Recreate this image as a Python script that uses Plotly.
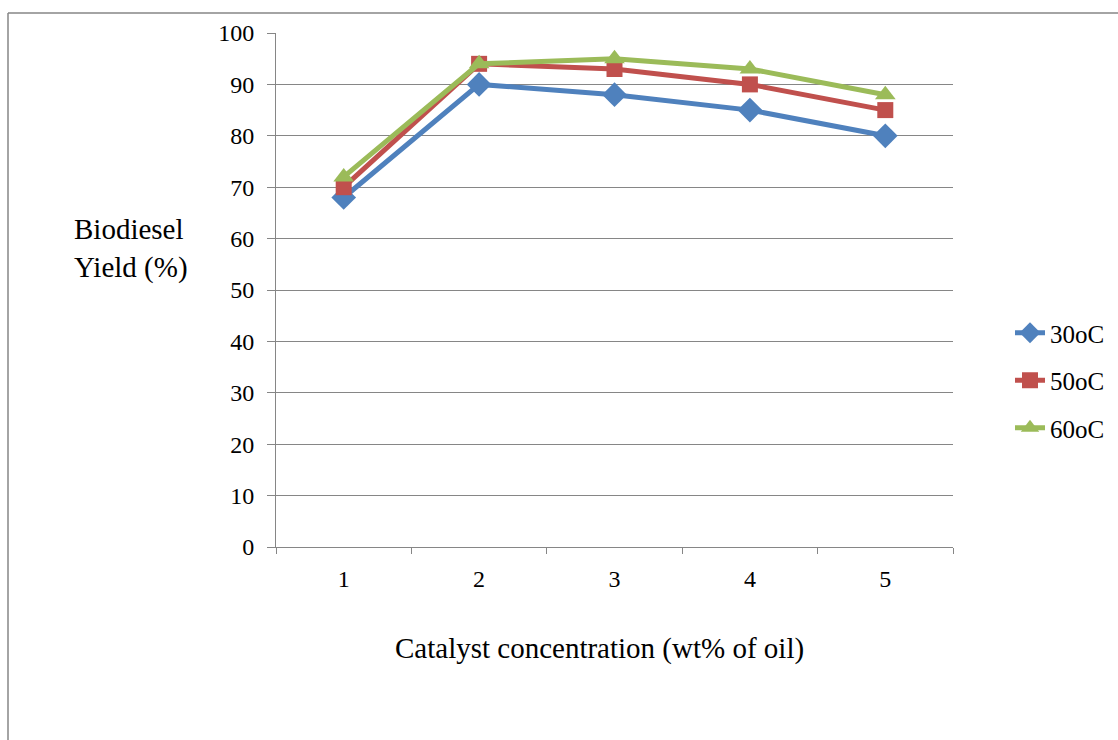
import plotly.graph_objects as go

categories = ["1", "2", "3", "4", "5"]
series_names = ["30oC", "50oC", "60oC"]
yield_30 = [68, 90, 88, 85, 80]
yield_50 = [70, 94, 93, 90, 85]
yield_60 = [72, 94, 95, 93, 88]

colors = ["#4F81BD", "#C0504D", "#9BBB59"]
symbols = ["diamond", "square", "triangle-up"]
sizes = [19, 16, 18]

W, H = 1118, 740
L, R, T, B = 276, 953, 33, 547
FONT = "Liberation Serif"

fig = go.Figure()
for i, (name, vals) in enumerate(zip(series_names, [yield_30, yield_50, yield_60])):
    fig.add_trace(go.Scatter(
        x=categories, y=vals, name=name, mode="lines+markers",
        line=dict(color=colors[i], width=5),
        marker=dict(symbol=symbols[i], size=sizes[i], color=colors[i]),
        legendgroup=name,
    ))

def px_x(x):
    return (x - L) / (R - L)

def px_y(y):
    return (B - y) / (B - T)

fig.update_layout(
    width=W, height=H,
    margin=dict(l=L, r=W - R, t=T, b=H - B, pad=0, autoexpand=False),
    paper_bgcolor="white", plot_bgcolor="white",
    font=dict(family=FONT, size=24, color="black"),
    showlegend=True,
    legend=dict(x=px_x(1010), y=px_y(310), xanchor="left", yanchor="top",
                font=dict(family=FONT, size=25), tracegroupgap=12, itemwidth=30,
                bgcolor="rgba(0,0,0,0)"),
    xaxis=dict(type="category", range=[-0.5, 4.5], tickson="boundaries",
               ticks="outside", ticklen=6,
               tickcolor="#868686", showline=True, linecolor="#868686", linewidth=1,
               showgrid=False, ticklabelstandoff=10,
               tickfont=dict(family=FONT, size=24)),
    yaxis=dict(range=[0, 100], dtick=10, ticks="outside", ticklen=8,
               tickcolor="#868686", showline=True, linecolor="#868686", linewidth=1,
               showgrid=True, gridcolor="#868686", gridwidth=1, zeroline=False,
               ticklabelstandoff=8, tickfont=dict(family=FONT, size=24)),
    annotations=[
        dict(text="Catalyst concentration (wt% of oil)", x=px_x(599), y=px_y(648),
             xref="paper", yref="paper", showarrow=False,
             font=dict(family=FONT, size=29),
             xanchor="center", yanchor="middle"),
        dict(text="Biodiesel<br>Yield (%)", x=px_x(72), y=px_y(249),
             xref="paper", yref="paper", showarrow=False,
             font=dict(family=FONT, size=29),
             xanchor="left", yanchor="middle", align="left"),
    ],
    shapes=[
        dict(type="line", xref="paper", yref="paper", x0=px_x(8), x1=px_x(1120),
             y0=px_y(13), y1=px_y(13), line=dict(color="#868686", width=1.5)),
        dict(type="line", xref="paper", yref="paper", x0=px_x(8), x1=px_x(8),
             y0=px_y(13), y1=px_y(745), line=dict(color="#868686", width=1.5)),
    ],
)

fig.write_html("out.html")
